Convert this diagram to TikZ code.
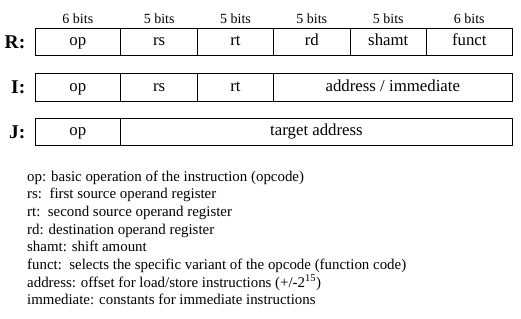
\documentclass[tikz,border=0pt]{standalone}
\usepackage{fontspec}
\setmainfont{Liberation Serif}
\usetikzlibrary{positioning}

\begin{document}
\begin{tikzpicture}[
    x=1pt, y=-1pt,
    field/.style={draw, line width=0.9pt, inner sep=0pt, minimum height=27.6pt,
                  text height=0.95em, text depth=0.2em,
                  font=\fontsize{16.8}{18}\selectfont},
    bits/.style={inner sep=0pt, font=\fontsize{14}{16}\selectfont},
    fmt/.style={inner sep=0pt, anchor=east, font=\fontsize{19.5}{22}\selectfont\bfseries}
]
    \useasboundingbox (0,0) rectangle (521,318);
    % R-type
    \node[field, minimum width=85.7pt] (rop)    at (77.85,42.15)  {op};
    \node[field, minimum width=77pt]   (rrs)    at (159.2,42.15)  {rs};
    \node[field, minimum width=75.6pt] (rrt)    at (235.5,42.15)  {rt};
    \node[field, minimum width=77pt]   (rrd)    at (311.8,42.15)  {rd};
    \node[field, minimum width=76pt]   (rshamt) at (388.3,42.15)  {shamt};
    \node[field, minimum width=86pt]   (rfunct) at (469.3,42.15)  {funct};
    \node[bits, above=4pt of rop]    {6 bits};
    \node[bits, above=4pt of rrs]    {5 bits};
    \node[bits, above=4pt of rrt]    {5 bits};
    \node[bits, above=4pt of rrd]    {5 bits};
    \node[bits, above=4pt of rshamt] {5 bits};
    \node[bits, above=4pt of rfunct] {6 bits};
    % I-type
    \node[field, minimum width=85.7pt]  (iop)  at (77.85,87.35) {op};
    \node[field, minimum width=77pt]    (irs)  at (159.2,87.35) {rs};
    \node[field, minimum width=75.6pt]  (irt)  at (235.5,87.35) {rt};
    \node[field, minimum width=239pt]   (iadr) at (392.8,87.35) {address / immediate};
    % J-type
    \node[field, minimum width=85.7pt]  (jop)  at (77.85,132) {op};
    \node[field, minimum width=391.6pt] (jadr) at (316.5,132) {target address};
    % format letters
    \node[fmt] (rlab) at (25.5,42.15) {R:};
    \node[fmt] (ilab) at (25.5,87.35) {I:};
    \node[fmt] (jlab) at (25.5,132)   {J:};
    % legend
    \node[inner sep=0pt, anchor=north west, align=left,
          font=\fontsize{14.9}{17.64}\selectfont] (legend) at (27,170.5) {%
        op: basic operation of the instruction (opcode)\\
        rs:\ \ first source operand register\\
        rt:\ \ second source operand register\\
        rd: destination operand register\\
        shamt: shift amount\\
        funct:\ \ selects the specific variant of the opcode (function code)\\
        address: offset for load/store instructions (+/-2\textsuperscript{15})\\
        immediate: constants for immediate instructions};
\end{tikzpicture}
\end{document}
